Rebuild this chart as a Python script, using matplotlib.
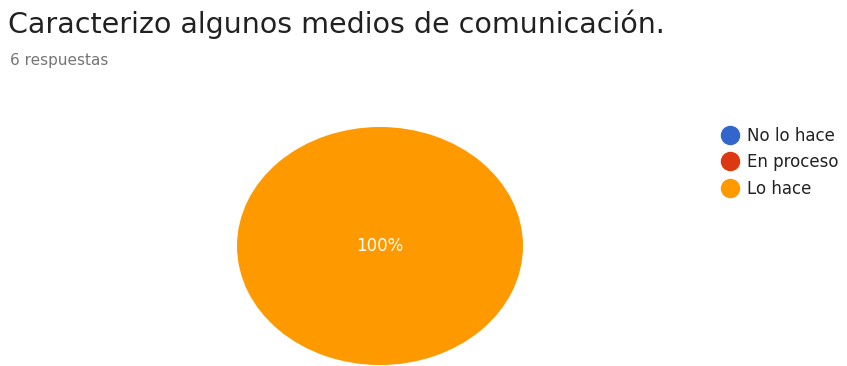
import matplotlib
matplotlib.use("Agg")
import matplotlib.pyplot as plt
from matplotlib.lines import Line2D

title = "Caracterizo algunos medios de comunicación."
subtitle = "6 respuestas"
categories = ["No lo hace", "En proceso", "Lo hace"]
values = [0, 0, 6]
colors = ["#3366CC", "#DC3912", "#FF9900"]

plt.rcParams['font.family'] = ['DejaVu Sans']

W, H = 847, 366
fig = plt.figure(figsize=(W / 100, H / 100), dpi=100)

fig.text(8 / W, 1 - 24 / H, title, fontsize=20.5, color="#212121", va="center", ha="left")
fig.text(10 / W, 1 - 61 / H, subtitle, fontsize=11, color="#757575", va="center", ha="left")

ax = fig.add_axes([237 / W, 1 - 365 / H, 286 / W, 238 / H])
nz_vals = [v for v in values if v > 0]
nz_cols = [c for v, c in zip(values, colors) if v > 0]
wedges, texts, autotexts = ax.pie(nz_vals, colors=nz_cols, startangle=90, counterclock=False,
                                  autopct=lambda p: f"{p:.0f}%", pctdistance=0.0,
                                  textprops=dict(color="white", fontsize=12))
ax.set_aspect('auto')
ax.set_xlim(-1, 1)
ax.set_ylim(-1, 1)
ax.axis('off')

handles = [Line2D([0], [0], marker='o', linestyle='none', markersize=13,
                  markerfacecolor=c, markeredgecolor=c) for c in colors]
fig.legend(handles, categories, loc='upper left', bbox_to_anchor=(718 / W, 1 - 127 / H),
           frameon=False, fontsize=12, handletextpad=0.35, labelspacing=0.5,
           handlelength=1.4, borderaxespad=0, borderpad=0, labelcolor="#222222")

fig.savefig("out.png", dpi=100)
